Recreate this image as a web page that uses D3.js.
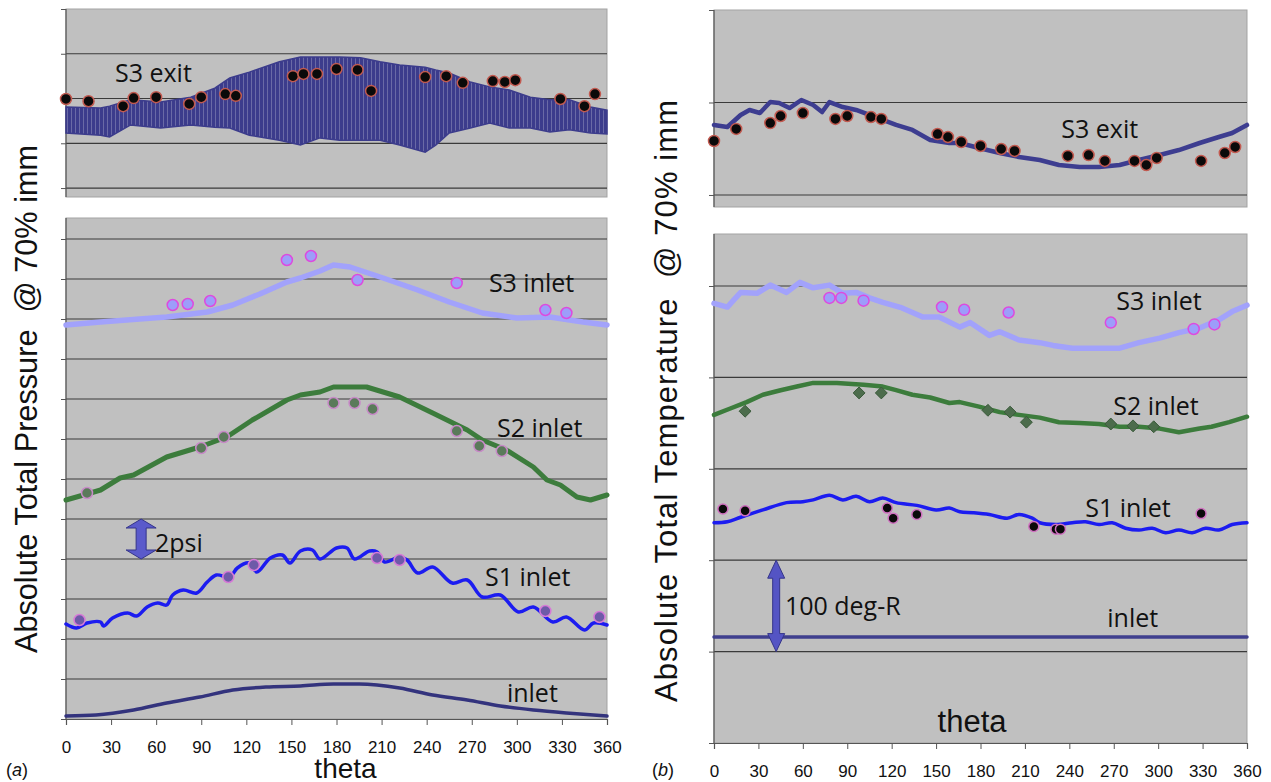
<!DOCTYPE html>
<html>
<head>
<meta charset="utf-8">
<script src="https://cdn.jsdelivr.net/npm/d3@7"></script>
<style>
  body { margin: 0; background: #fff; }
  svg { display: block; }
</style>
</head>
<body>
<script>
'use strict';

// ---- data ----
const thetaTicks = [0, 30, 60, 90, 120, 150, 180, 210, 240, 270, 300, 330, 360];
const aTopTicks = [0, 1, 2, 3, 4];
const aTicks = [0, 2, 4, 6, 8, 10, 12, 14, 16, 18, 20, 22, 24];
const bTopTicks = [0, 1, 2];
const bTicks = [0, 100, 200, 300, 400, 500];

// (a) pressure, S3 exit band (upper / lower envelope of the fast oscillation)
const aExitTheta = [0, 23, 29, 43, 63, 83, 99, 109, 122, 142, 156, 169, 182, 196, 209, 222, 239, 246, 255, 269, 282, 295, 309, 322, 335, 349, 360];
const aExitHigh = [1.81, 1.79, 1.83, 1.97, 1.92, 2.03, 2.23, 2.46, 2.59, 2.82, 2.93, 2.93, 2.93, 2.91, 2.82, 2.75, 2.70, 2.64, 2.57, 2.37, 2.26, 2.19, 2.03, 1.97, 1.97, 1.81, 1.74];
const aExitLow = [1.23, 1.18, 1.14, 1.41, 1.34, 1.41, 1.36, 1.34, 1.18, 1.07, 0.96, 1.12, 1.07, 1.07, 1.07, 0.96, 0.80, 0.96, 1.23, 1.34, 1.45, 1.34, 1.34, 1.25, 1.30, 1.23, 1.21];

// exit probe positions (same for both panels)
const exitProbeTheta = [0, 15, 38, 45, 60, 82, 90, 106, 113, 151, 158, 167, 180, 194, 203, 239, 253, 264, 284, 292, 299, 329, 345, 352];
const aExitProbe = [1.99, 1.94, 1.83, 2.01, 2.03, 1.88, 2.03, 2.10, 2.06, 2.50, 2.55, 2.55, 2.66, 2.64, 2.17, 2.48, 2.50, 2.35, 2.39, 2.37, 2.41, 1.99, 1.83, 2.10];

// (a) pressure, inlets (psi above chart bottom)
const aS3InTheta = [0, 23, 49, 67, 94, 111, 129, 147, 156, 169, 178, 189, 211, 234, 255, 277, 300, 322, 344, 360];
const aS3In = [19.7, 19.85, 20.0, 20.1, 20.35, 20.7, 21.25, 21.85, 22.05, 22.4, 22.7, 22.6, 22.05, 21.45, 20.85, 20.3, 20.05, 20.1, 19.85, 19.7];
const aS3InProbeTheta = [71, 81, 96, 147, 163, 194, 260, 319, 333];
const aS3InProbe = [20.7, 20.75, 20.9, 22.95, 23.15, 21.95, 21.8, 20.45, 20.3];

const aS2Theta = [0, 14, 23, 36, 45, 67, 89, 107, 124, 147, 156, 169, 178, 200, 222, 244, 267, 277, 293, 311, 320, 329, 340, 349, 360];
const aS2 = [10.95, 11.25, 11.45, 12.05, 12.2, 13.1, 13.6, 14.1, 14.95, 15.95, 16.2, 16.35, 16.6, 16.6, 16.1, 15.3, 14.45, 13.95, 13.45, 12.6, 11.95, 11.7, 11.1, 10.95, 11.2];
const aS2ProbeTheta = [14, 90, 105, 178, 192, 204, 260, 275, 290];
const aS2Probe = [11.3, 13.55, 14.1, 15.8, 15.8, 15.5, 14.4, 13.65, 13.4];

const aS1Theta = [0, 7, 14, 23, 25, 31, 41, 47, 54, 61, 67, 71, 78, 87, 94, 100, 109, 114, 122, 127, 136, 144, 149, 156, 164, 169, 180, 187, 192, 202, 207, 212, 222, 227, 234, 244, 257, 267, 277, 289, 301, 311, 324, 333, 345, 351, 360];
const aS1 = [4.75, 4.55, 4.8, 4.85, 4.65, 5.05, 5.3, 5.15, 5.6, 5.8, 5.7, 6.2, 6.45, 6.3, 6.85, 7.2, 7.1, 7.55, 7.8, 7.35, 8.05, 8.2, 7.8, 8.4, 8.45, 8.0, 8.55, 8.55, 8.0, 8.4, 8.35, 7.85, 8.1, 7.95, 7.3, 7.6, 6.8, 6.95, 6.1, 6.2, 5.35, 5.6, 4.85, 5.1, 4.45, 4.8, 4.7];
const aS1ProbeTheta = [9, 108, 125, 207, 222, 319, 355];
const aS1Probe = [4.95, 7.1, 7.7, 8.05, 7.95, 5.4, 5.1];

const aInletTheta = [0, 20, 45, 67, 89, 111, 133, 156, 178, 195, 222, 244, 267, 289, 311, 333, 360];
const aInlet = [0.15, 0.2, 0.45, 0.8, 1.1, 1.45, 1.6, 1.65, 1.75, 1.75, 1.55, 1.2, 0.95, 0.65, 0.45, 0.3, 0.15];

// (b) temperature, S3 exit
const bExitTheta = [0, 9, 18, 24, 31, 38, 44, 51, 59, 67, 73, 78, 87, 96, 105, 114, 123, 134, 146, 159, 166, 179, 193, 206, 220, 233, 247, 260, 274, 287, 301, 314, 328, 341, 350, 360];
const bExit = [0.757, 0.735, 0.865, 0.919, 0.886, 1.005, 0.995, 0.94, 1.027, 0.973, 0.897, 1.005, 0.951, 0.919, 0.865, 0.811, 0.757, 0.703, 0.595, 0.562, 0.562, 0.508, 0.454, 0.411, 0.378, 0.324, 0.303, 0.303, 0.324, 0.378, 0.432, 0.486, 0.562, 0.627, 0.670, 0.757];
const bExitProbe = [0.584, 0.714, 0.778, 0.854, 0.886, 0.822, 0.854, 0.843, 0.822, 0.659, 0.627, 0.573, 0.530, 0.497, 0.476, 0.422, 0.432, 0.368, 0.368, 0.324, 0.400, 0.368, 0.454, 0.519];

// (b) temperature, inlets (deg-R above chart bottom)
const bS3InTheta = [0, 9, 18, 29, 38, 49, 58, 67, 78, 87, 96, 105, 114, 127, 141, 152, 166, 173, 186, 193, 206, 220, 229, 242, 256, 274, 287, 301, 314, 328, 341, 350, 360];
const bS3In = [481, 477, 493, 492, 501, 493, 504, 498, 501, 492, 493, 487, 482, 476, 466, 466, 455, 460, 446, 450, 441, 438, 435, 432, 432, 432, 438, 443, 449, 454, 463, 472, 479];
const bS3InProbeTheta = [78, 86, 101, 154, 169, 199, 268, 324, 338];
const bS3InProbe = [487, 487, 484, 477, 474, 471, 460, 453, 458];

const bS2Theta = [0, 11, 22, 33, 45, 56, 67, 83, 101, 114, 123, 134, 146, 159, 166, 179, 193, 206, 220, 233, 247, 260, 274, 287, 301, 314, 328, 336, 348, 360];
const bS2 = [359, 366, 373, 381, 386, 390, 394, 394, 392, 390, 386, 381, 378, 372, 373, 368, 362, 359, 356, 351, 350, 349, 346, 346, 344, 340, 344, 346, 351, 357];
const bS2ProbeTheta = [21, 98, 113, 185, 200, 211, 268, 283, 297];
const bS2Probe = [363, 383, 383, 364, 362, 351, 349, 347, 346];

const bS1Theta = [0, 9, 18, 33, 49, 60, 67, 78, 87, 96, 105, 114, 123, 137, 150, 159, 166, 175, 186, 198, 206, 215, 220, 231, 242, 251, 260, 269, 278, 287, 296, 305, 314, 323, 332, 341, 350, 360];
const bS1 = [241, 242, 247, 255, 263, 264, 266, 271, 266, 270, 264, 268, 263, 260, 255, 257, 253, 252, 250, 246, 250, 246, 241, 239, 241, 242, 239, 241, 235, 233, 235, 230, 233, 230, 235, 233, 239, 241];
const bS1ProbeTheta = [6, 21, 117, 121, 137, 216, 231, 234, 329];
const bS1Probe = [256, 254, 257, 246, 250, 237, 234, 234, 251];

const bInletTheta = [0, 360];
const bInlet = [116, 116];

(function () {

  let svgContainer = "";

  const LABEL_FONT = "'Open Sans', sans-serif";
  const ARIAL = "'Liberation Sans', Arial, sans-serif";

  window.onload = function () {
    svgContainer = d3.select('body')
      .append('svg')
      .attr('width', 1271)
      .attr('height', 782);

    let defs = svgContainer.append('defs');
    // vertical streaks for the fast-oscillating S3 exit trace
    let pat = defs.append('pattern')
      .attr('id', 'streaks')
      .attr('patternUnits', 'userSpaceOnUse')
      .attr('width', 4)
      .attr('height', 20);
    pat.append('rect').attr('width', 4).attr('height', 20).attr('fill', '#3c3c8c');
    pat.append('rect').attr('x', 3).attr('width', 1).attr('height', 20).attr('fill', '#6a6aa6');

    drawPressure();
    drawTemperature();
  }

  // zip two arrays into [theta, value] pairs
  function zip(t, v) {
    return t.map((d, i) => [d, v[i]]);
  }

  // scales for a subplot
  function makeScales(xRange, yDomain, yRange) {
    return {
      x: d3.scaleLinear().domain([0, 360]).range(xRange),
      y: d3.scaleLinear().domain(yDomain).range(yRange)
    };
  }

  // grey plot area, gridlines and left axis
  function drawFrame(sc, ticks, showX) {
    let x0 = sc.x.range()[0], x1 = sc.x.range()[1];
    let yb = sc.y.range()[0], yt = sc.y.range()[1];

    svgContainer.append('rect')
      .attr('x', x0).attr('y', yt)
      .attr('width', x1 - x0).attr('height', yb - yt)
      .attr('fill', '#c0c0c0')
      .attr('stroke', '#a3a3a3')
      .attr('stroke-width', 1);

    svgContainer.append('g')
      .selectAll('line')
      .data(ticks.filter(t => sc.y(t) > yt + 3 && sc.y(t) < yb - 1))
      .enter()
      .append('line')
      .attr('x1', x0).attr('x2', x1)
      .attr('y1', d => sc.y(d)).attr('y2', d => sc.y(d))
      .attr('stroke', '#3a3a3a')
      .attr('stroke-width', 1.2);

    let yAxis = d3.axisLeft(sc.y).tickValues(ticks).tickSize(5).tickFormat('');
    let g = svgContainer.append('g')
      .attr('transform', 'translate(' + x0 + ',0)')
      .call(yAxis);
    g.select('.domain').remove();
    g.selectAll('line').attr('stroke', '#555');
    svgContainer.append('line')
      .attr('x1', x0).attr('x2', x0)
      .attr('y1', yt).attr('y2', yb)
      .attr('stroke', '#555').attr('stroke-width', 1.2);

    if (showX) {
      let xAxis = d3.axisBottom(sc.x).tickValues(thetaTicks).tickSize(6).tickPadding(showX.pad);
      let gx = svgContainer.append('g')
        .attr('transform', 'translate(0,' + sc.y(ticks[0]) + ')')
        .call(xAxis);
      gx.select('.domain').attr('stroke', '#555').attr('stroke-width', 1.2);
      gx.selectAll('line').attr('stroke', '#555');
      gx.selectAll('text')
        .style('font-family', ARIAL)
        .style('font-size', '17px')
        .attr('fill', '#111');
    }
  }

  function drawLine(sc, t, v, color, width, curve) {
    let line = d3.line()
      .x(d => sc.x(d[0]))
      .y(d => sc.y(d[1]))
      .curve(curve || d3.curveLinear);
    svgContainer.append('path')
      .datum(zip(t, v))
      .attr('d', line)
      .attr('fill', 'none')
      .attr('stroke', color)
      .attr('stroke-width', width)
      .attr('stroke-linejoin', 'round')
      .attr('stroke-linecap', 'round');
  }

  function drawDots(sc, t, v, fill, stroke, r) {
    svgContainer.append('g')
      .selectAll('circle')
      .data(zip(t, v))
      .enter()
      .append('circle')
      .attr('cx', d => sc.x(d[0]))
      .attr('cy', d => sc.y(d[1]))
      .attr('r', r)
      .attr('fill', fill)
      .attr('stroke', stroke)
      .attr('stroke-width', 1.5);
  }

  function drawDiamonds(sc, t, v, fill, stroke) {
    svgContainer.append('g')
      .selectAll('path')
      .data(zip(t, v))
      .enter()
      .append('path')
      .attr('d', d3.symbol().type(d3.symbolDiamond2).size(90))
      .attr('transform', d => 'translate(' + sc.x(d[0]) + ',' + sc.y(d[1]) + ')')
      .attr('fill', fill)
      .attr('stroke', stroke)
      .attr('stroke-width', 1);
  }

  function addText(sc, theta, val, str, size, font) {
    return svgContainer.append('text')
      .attr('x', sc.x(theta))
      .attr('y', sc.y(val))
      .style('font-family', font || LABEL_FONT)
      .style('font-size', size + 'px')
      .attr('fill', '#111')
      .text(str);
  }

  // double headed arrow between two values at one theta
  function doubleArrow(sc, theta, v0, v1, shaft, head, headLen, fill, stroke) {
    let cx = sc.x(theta), yTop = sc.y(v1), yBot = sc.y(v0);
    let s = shaft / 2, h = head / 2;
    let pts = [
      [cx, yTop], [cx + h, yTop + headLen], [cx + s, yTop + headLen],
      [cx + s, yBot - headLen], [cx + h, yBot - headLen], [cx, yBot],
      [cx - h, yBot - headLen], [cx - s, yBot - headLen], [cx - s, yTop + headLen],
      [cx - h, yTop + headLen]
    ];
    svgContainer.append('path')
      .attr('d', 'M' + pts.map(p => p.join(',')).join('L') + 'Z')
      .attr('fill', fill)
      .attr('stroke', stroke)
      .attr('stroke-width', 1);
  }

  // ---- panel (a): absolute total pressure ----
  function drawPressure() {
    let top = makeScales([66, 607], [-0.2, 4], [197, 9]);
    let bot = makeScales([66, 607], [0, 25.05], [719, 218]);

    drawFrame(top, aTopTicks, null);
    drawFrame(bot, aTicks, { pad: 16 });

    // S3 exit oscillation band
    let area = d3.area()
      .x(d => top.x(d[0]))
      .y0(d => top.y(d[2]))
      .y1(d => top.y(d[1]));
    svgContainer.append('path')
      .datum(aExitTheta.map((d, i) => [d, aExitHigh[i], aExitLow[i]]))
      .attr('d', area)
      .attr('fill', 'url(#streaks)')
      .attr('stroke', '#3c3c8c')
      .attr('stroke-width', 1.5);
    drawDots(top, exitProbeTheta, aExitProbe, '#0a0a0a', '#c25a50', 5.5);
    addText(top, 32.6, 2.37, 'S3 exit', 25);

    drawLine(bot, aInletTheta, aInlet, '#33337d', 3.5, d3.curveMonotoneX);
    drawLine(bot, aS1Theta, aS1, '#1c1cf0', 3.5, d3.curveCatmullRom);
    drawDots(bot, aS1ProbeTheta, aS1Probe, '#6e5aa8', '#d77ad7', 5.5);
    drawLine(bot, aS2Theta, aS2, '#3c7c3c', 5, d3.curveLinear);
    drawDots(bot, aS2ProbeTheta, aS2Probe, '#5a7a5a', '#c88ac8', 5.5);
    drawLine(bot, aS3InTheta, aS3In, '#a2a2fb', 5.5, d3.curveLinear);
    drawDots(bot, aS3InProbeTheta, aS3InProbe, '#9d9dfa', '#de4ade', 5.5);

    addText(bot, 281.4, 21.35, 'S3 inlet', 25);
    addText(bot, 286.8, 14.1, 'S2 inlet', 25);
    addText(bot, 278.8, 6.65, 'S1 inlet', 25);
    addText(bot, 293.4, 0.85, 'inlet', 25);

    // 2 psi scale arrow
    doubleArrow(bot, 50, 8, 10, 10, 30, 9, '#5a5acb', '#34348a');
    addText(bot, 59.2, 8.35, '2psi', 25);

    svgContainer.append('text')
      .attr('x', bot.x(180) + 9)
      .attr('y', 778)
      .attr('text-anchor', 'middle')
      .style('font-family', ARIAL)
      .style('font-size', '28px')
      .attr('fill', '#111')
      .text('theta');

    svgContainer.append('text')
      .attr('x', 6)
      .attr('y', 776)
      .style('font-family', ARIAL)
      .style('font-size', '18px')
      .attr('fill', '#111')
      .html('(<tspan font-style="italic">a</tspan>)');

    svgContainer.append('text')
      .attr('transform', 'translate(37, 399)rotate(-90)')
      .attr('text-anchor', 'middle')
      .style('font-family', ARIAL)
      .style('font-size', '30.7px')
      .attr('fill', '#111')
      .attr('xml:space', 'preserve')
      .text('Absolute Total Pressure  @ 70% imm');
  }

  // ---- panel (b): absolute total temperature ----
  function drawTemperature() {
    let top = makeScales([714, 1247], [-0.13, 2], [207, 10]);
    let bot = makeScales([714, 1247], [0, 556.9], [743, 234]);

    drawFrame(top, bTopTicks, null);
    drawFrame(bot, bTicks, { pad: 16 });

    drawLine(top, bExitTheta, bExit, '#3d3d90', 4.5, d3.curveLinear);
    drawDots(top, exitProbeTheta, bExitProbe, '#0a0a0a', '#c25a50', 5.5);
    addText(top, 234.6, 0.616, 'S3 exit', 25);

    drawLine(bot, bInletTheta, bInlet, '#3f3f8e', 3.5, d3.curveLinear);
    drawLine(bot, bS1Theta, bS1, '#1c1cf0', 3.5, d3.curveCatmullRom);
    drawDots(bot, bS1ProbeTheta, bS1Probe, '#0a0a0a', '#d070c0', 5);
    drawLine(bot, bS2Theta, bS2, '#3c7c3c', 4.5, d3.curveLinear);
    drawDiamonds(bot, bS2ProbeTheta, bS2Probe, '#4c6c4c', '#3a5a3a');
    drawLine(bot, bS3InTheta, bS3In, '#a2a2fb', 5.5, d3.curveLinear);
    drawDots(bot, bS3InProbeTheta, bS3InProbe, '#9d9dfa', '#de4ade', 5.5);

    addText(bot, 271.7, 473.7, 'S3 inlet', 25);
    addText(bot, 269.7, 358.9, 'S2 inlet', 25);
    addText(bot, 250.8, 247.3, 'S1 inlet', 25);
    addText(bot, 265.6, 126.9, 'inlet', 25);

    // 100 deg-R scale arrow
    doubleArrow(bot, 42, 100, 200, 7, 17, 18, '#5454c4', '#34348a');
    addText(bot, 47.9, 140, '100 deg-R', 25);

    addText(bot, 151, 12, 'theta', 31, ARIAL);

    svgContainer.append('text')
      .attr('x', 652)
      .attr('y', 776)
      .style('font-family', ARIAL)
      .style('font-size', '18px')
      .attr('fill', '#111')
      .html('(<tspan font-style="italic">b</tspan>)');

    svgContainer.append('text')
      .attr('transform', 'translate(677, 401)rotate(-90)')
      .attr('text-anchor', 'middle')
      .style('font-family', ARIAL)
      .style('font-size', '31px')
      .attr('fill', '#111')
      .attr('xml:space', 'preserve')
      .attr('textLength', 602)
      .attr('lengthAdjust', 'spacing')
      .text('Absolute Total Temperature  @ 70% imm');
  }
})();
</script>
</body>
</html>
